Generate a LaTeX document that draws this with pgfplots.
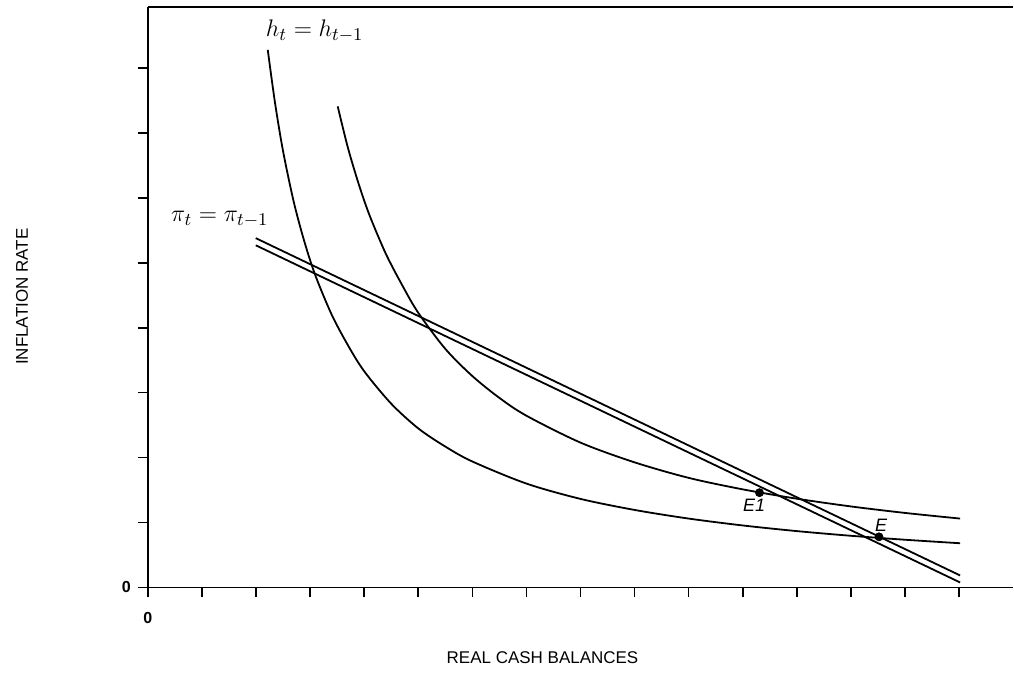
\documentclass[border=0pt]{standalone}
\usepackage{fontspec}
\setmainfont{Liberation Sans}
\usepackage{pgfplots}
\pgfplotsset{compat=1.18}
\usetikzlibrary{calc}

\begin{document}
\begin{tikzpicture}
  \begin{axis}[
      name=ax,
      scale only axis,
      width=433pt,
      height=290.5pt,
      xmin=0, xmax=16,
      ymin=0, ymax=8.94,
      axis x line*=bottom,
      axis y line*=left,
      axis line style={line width=0.9pt},
      xtick={0,...,15},
      ytick={0,...,8},
      xticklabels={0,,,,,,,,,,,,,,,},
      yticklabels={0,,,,,,,,},
      tick align=outside,
      major tick length=5pt,
      tick style={black, line width=0.8pt},
      xticklabel style={font=\fontsize{8}{9}\selectfont\bfseries, yshift=-4pt},
      yticklabel style={font=\fontsize{8}{9}\selectfont\bfseries},
      clip=false,
  ]
    % lower curve h_t = h_{t-1}
    \addplot[black, line width=0.9pt, smooth] coordinates {
        (2.217,8.28) (2.35,7.47) (2.5,6.72) (2.7,5.93) (2.9,5.31)
        (3.1,4.80) (3.4,4.20) (3.7,3.73) (4.0,3.33) (4.5,2.83)
        (5.0,2.45) (5.5,2.17) (6.0,1.94) (7.0,1.60) (8.0,1.364)
        (9.0,1.194) (10.0,1.061) (11.0,0.955) (12.0,0.868) (13.0,0.796)
        (14.0,0.735) (15.02,0.681)
    };
    % upper curve
    \addplot[black, line width=0.9pt, smooth] coordinates {
        (3.51,7.41) (3.7,6.77) (3.9,6.21) (4.1,5.73) (4.4,5.14)
        (4.7,4.66) (5.0,4.23) (5.5,3.675) (6.0,3.256) (6.5,2.92)
        (7.0,2.645) (8.0,2.231) (9.0,1.927) (10.0,1.688) (11.0,1.511)
        (12.0,1.367) (13.0,1.248) (14.0,1.148) (15.02,1.061)
    };
    % pi_t = pi_{t-1}, drawn as a double line
    \addplot[black, line width=0.9pt] coordinates {(1.995,5.38) (15.02,0.185)};
    \addplot[black, line width=0.9pt] coordinates {(1.995,5.27) (15.02,0.077)};
    % equilibrium points
    \addplot[only marks, mark=*, mark size=2pt, black] coordinates {(11.31,1.46) (13.52,0.78)};

    \node[font=\fontsize{13}{13}\selectfont] at (axis cs:3.085,8.57) {$h_t = h_{t-1}$};
    \node[font=\fontsize{13}{13}\selectfont] at (axis cs:1.33,5.67) {$\pi_t = \pi_{t-1}$};
    \node[font=\fontsize{9}{9}\selectfont\itshape] at (axis cs:11.21,1.26) {E1};
    \node[font=\fontsize{9}{9}\selectfont\itshape] at (axis cs:13.56,0.96) {E};
  \end{axis}
  \draw[line width=0.9pt] (ax.north west) -- (ax.north east);
  \node[font=\fontsize{8.5}{9}\selectfont] at ($(ax.south west)+(197.5pt,-35pt)$) {REAL CASH BALANCES};
  \node[font=\fontsize{8.5}{9}\selectfont, rotate=90] at ($(ax.south west)+(-63pt,145.5pt)$) {INFLATION RATE};
  \useasboundingbox ($(ax.south west)+(-74pt,-43.5pt)$) rectangle ($(ax.north east)+(0pt,3.5pt)$);
\end{tikzpicture}
\end{document}
